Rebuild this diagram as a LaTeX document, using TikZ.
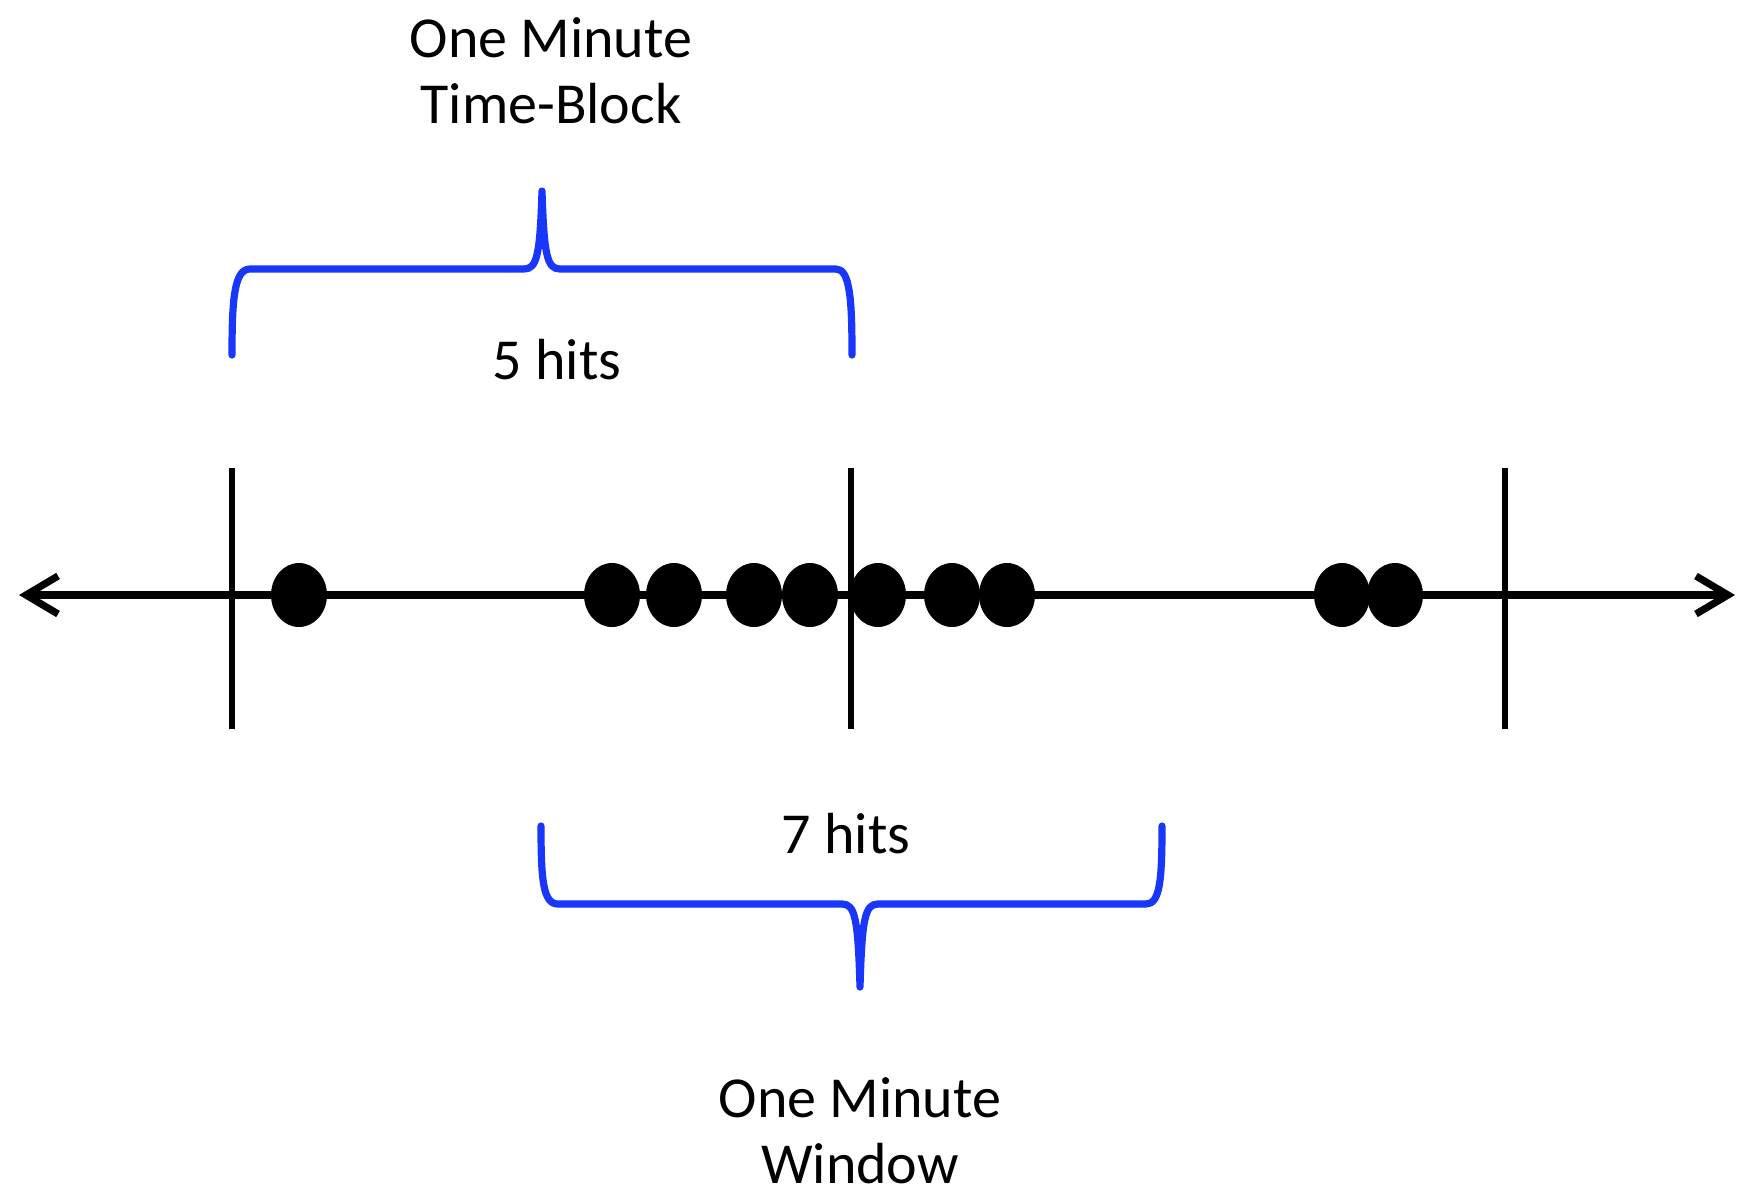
\documentclass[tikz,border=0pt]{standalone}
\usepackage{fontspec}
\setmainfont{Carlito}
\usetikzlibrary{arrows.meta,shapes.geometric}
\definecolor{braceblue}{RGB}{25,55,250}
\begin{document}
\begin{tikzpicture}[x=0.5pt,y=-0.5pt,
  axisline/.style={line width=3.6pt,black,arrows={Straight Barb[length=16pt,width=19pt,line width=3.6pt]-Straight Barb[length=16pt,width=19pt,line width=3.6pt]}},
  tickline/.style={line width=3.2pt,black},
  hitdot/.style={ellipse,fill=black,draw=none,inner sep=0pt,minimum width=28pt,minimum height=32pt},
  bracepath/.style={line width=3.6pt,braceblue,line cap=round,line join=round},
  lbl/.style={font=\fontsize{29pt}{33pt}\selectfont,inner sep=0pt,align=center}]
\useasboundingbox (0,0) rectangle (1739,1201);
% axis
\coordinate (aL) at (19,595);
\coordinate (aR) at (1735,595);
\draw[axisline] (aL) -- (aR);
% ticks
\coordinate (t1a) at (232,468); \coordinate (t1b) at (232,729);
\coordinate (t2a) at (851,468); \coordinate (t2b) at (851,729);
\coordinate (t3a) at (1505,468); \coordinate (t3b) at (1505,729);
\draw[tickline] (t1a) -- (t1b);
\draw[tickline] (t2a) -- (t2b);
\draw[tickline] (t3a) -- (t3b);
% hits
\node[hitdot] (d1) at (299,595) {};
\node[hitdot] (d2) at (612,595) {};
\node[hitdot] (d3) at (674,595) {};
\node[hitdot] (d4) at (754,595) {};
\node[hitdot] (d5) at (810,595) {};
\node[hitdot] (d6) at (878,595) {};
\node[hitdot] (d7) at (952,595) {};
\node[hitdot] (d8) at (1007,595) {};
\node[hitdot] (d9) at (1342,595) {};
\node[hitdot] (d10) at (1395,595) {};
% top brace
\draw[bracepath] (232,355) .. controls (232,300) and (234,269) .. (250,269)
  -- (524,269) .. controls (537,269) and (540,255) .. (542,191)
  .. controls (544,255) and (547,269) .. (560,269)
  -- (836,269) .. controls (850,269) and (852,300) .. (852,355);
% bottom brace
\draw[bracepath] (541,826) .. controls (541,880) and (543,904) .. (558,904)
  -- (842,904) .. controls (855,904) and (858,918) .. (860,987)
  .. controls (862,918) and (865,904) .. (878,904)
  -- (1146,904) .. controls (1160,904) and (1162,880) .. (1162,826);
% labels
\node[lbl] (topLbl) at (551,71) {One Minute\\Time-Block};
\node[lbl] (fiveLbl) at (557,360) {5 hits};
\node[lbl] (sevenLbl) at (846,834) {7 hits};
\node[lbl,text depth=0pt,anchor=south] (botLbl) at (860,1184) {One Minute\\Window};
\end{tikzpicture}
\end{document}
